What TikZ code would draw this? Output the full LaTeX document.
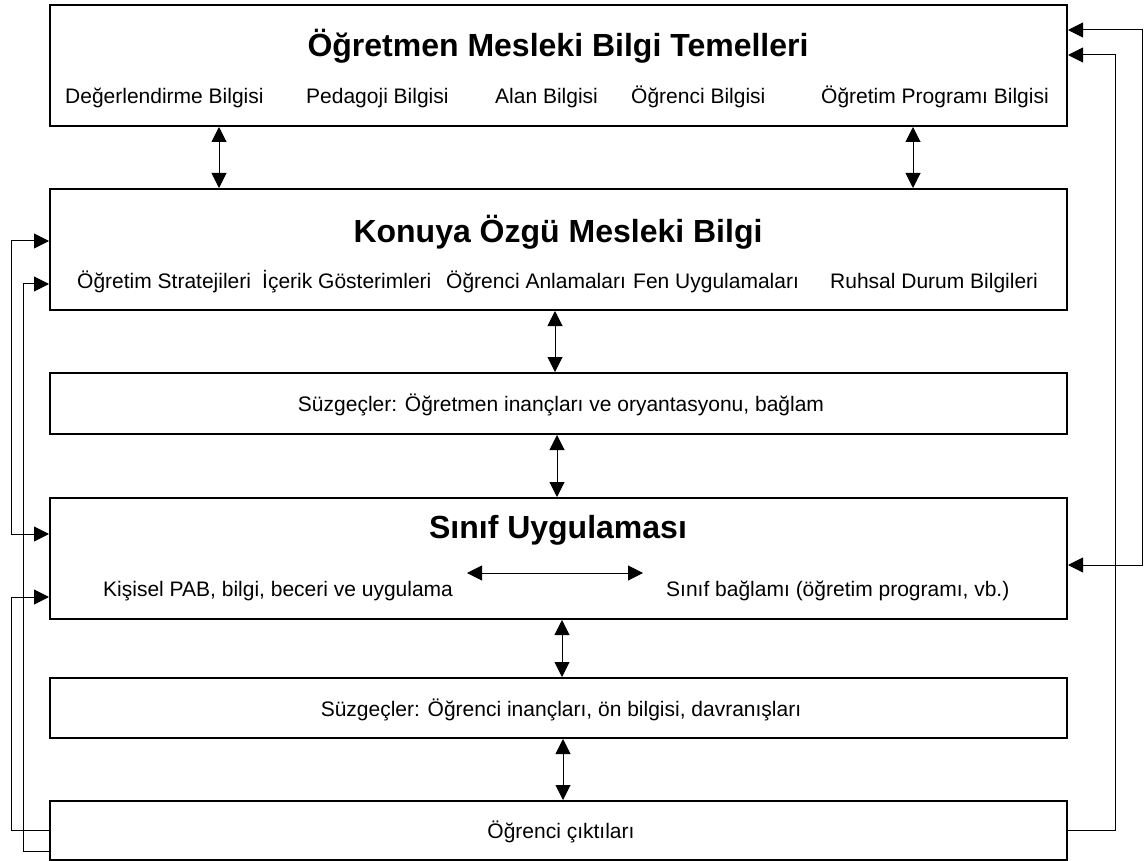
\documentclass[tikz,border=0pt]{standalone}
\usepackage{fontspec}
\setmainfont{Liberation Sans}
\usetikzlibrary{arrows.meta}
\begin{document}
\begin{tikzpicture}[x=1pt,y=-1pt,
  box/.style={draw=black, line width=2pt, fill=white, inner sep=0pt, minimum width=1017pt},
  head/.style={font=\fontsize{32}{36}\selectfont\bfseries, inner sep=0pt, anchor=base},
  lbl/.style={font=\fontsize{21}{25}\selectfont, inner sep=0pt, anchor=base west},
  mid/.style={font=\fontsize{21}{25}\selectfont, inner sep=0pt, anchor=base},
  link/.style={line width=1pt, -{Triangle[length=15pt,width=15pt]}},
  both/.style={line width=1pt, {Triangle[length=15pt,width=15pt]}-{Triangle[length=15pt,width=15pt]}}
]
\useasboundingbox (0,0) rectangle (1144,861);

% boxes
\node[box, minimum height=121pt] (top)    at (558.5,65.5)  {};
\node[box, minimum height=121pt] (konuya) at (558.5,249.5) {};
\node[box, minimum height=61pt]  (filt1)  at (558.5,403.5) {};
\node[box, minimum height=121pt] (sinif)  at (558.5,558.5) {};
\node[box, minimum height=60pt]  (filt2)  at (558.5,708)   {};
\node[box, minimum height=59pt]  (out)    at (558.5,830.5) {};

% texts of the first box
\node[head] (t0) at (558,57) {Öğretmen Mesleki Bilgi Temelleri};
\node[lbl] (t1) at (65,104)  {Değerlendirme Bilgisi};
\node[lbl] (t2) at (306,104) {Pedagoji Bilgisi};
\node[lbl] (t3) at (495,104) {Alan Bilgisi};
\node[lbl] (t4) at (631,104) {Öğrenci Bilgisi};
\node[lbl] (t5) at (821,104) {Öğretim Programı Bilgisi};

% texts of the second box
\node[head] (k0) at (558,243) {Konuya Özgü Mesleki Bilgi};
\node[lbl] (k1) at (77,289)  {Öğretim Stratejileri};
\node[lbl] (k2) at (262,289) {İçerik Gösterimleri};
\node[lbl] (k3) at (446,289) {Öğrenci Anlamaları};
\node[lbl] (k4) at (633,289) {Fen Uygulamaları};
\node[lbl] (k5) at (830,289) {Ruhsal Durum Bilgileri};

\node[mid] (f1) at (561,411) {Süzgeçler: Öğretmen inançları ve oryantasyonu, bağlam};

% texts of the classroom box
\node[head] (s0) at (558,538) {Sınıf Uygulaması};
\node[lbl] (s1) at (103,596) {Kişisel PAB, bilgi, beceri ve uygulama};
\node[lbl] (s2) at (666,596) {Sınıf bağlamı (öğretim programı, vb.)};

\node[mid] (f2) at (561,716) {Süzgeçler: Öğrenci inançları, ön bilgisi, davranışları};
\node[mid] (o1) at (561,838) {Öğrenci çıktıları};

% reference columns and rows for connectors
\coordinate (ca) at (219,0);
\coordinate (cb) at (913,0);
\coordinate (cc) at (555,0);
\coordinate (cd) at (557,0);
\coordinate (ce) at (562,0);
\coordinate (cf) at (563,0);
\coordinate (ha) at (467,573);
\coordinate (hb) at (643,573);
\coordinate (xl1) at (11,0);
\coordinate (xl2) at (23,0);
\coordinate (xr1) at (1115,0);
\coordinate (xr2) at (1142,0);
\coordinate (ya) at (0,30);
\coordinate (yb) at (0,55);
\coordinate (yc) at (0,241);
\coordinate (yd) at (0,284);
\coordinate (ye) at (0,534);
\coordinate (yf) at (0,565);
\coordinate (yg) at (0,597);
\coordinate (yh) at (0,830);
\coordinate (yi) at (0,851);

% vertical links between boxes
\draw[both] (top.south -| ca) -- (konuya.north -| ca);
\draw[both] (top.south -| cb) -- (konuya.north -| cb);
\draw[both] (konuya.south -| cc) -- (filt1.north -| cc);
\draw[both] (filt1.south -| cd) -- (sinif.north -| cd);
\draw[both] (sinif.south -| ce) -- (filt2.north -| ce);
\draw[both] (filt2.south -| cf) -- (out.north -| cf);

% link inside the classroom box
\draw[both] (ha) -- (hb);

% feedback loops on the left
\draw[both] (konuya.west |- yc) -- (xl1 |- yc) -- (xl1 |- ye) -- (sinif.west |- ye);
\draw[link] (out.west |- yh) -- (xl1 |- yh) -- (xl1 |- yg) -- (sinif.west |- yg);
\draw[link] (out.west |- yi) -- (xl2 |- yi) -- (xl2 |- yd) -- (konuya.west |- yd);

% feedback loops on the right
\draw[both] (sinif.east |- yf) -- (xr2 |- yf) -- (xr2 |- ya) -- (top.east |- ya);
\draw[link] (out.east |- yh) -- (xr1 |- yh) -- (xr1 |- yb) -- (top.east |- yb);
\end{tikzpicture}
\end{document}
